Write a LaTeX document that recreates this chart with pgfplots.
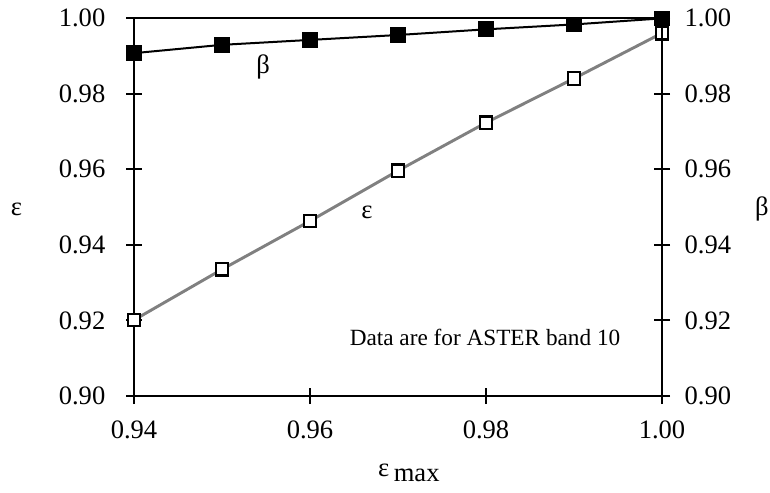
\documentclass[border=0pt]{standalone}
\usepackage{fontspec}
\setmainfont{Liberation Serif}
\usepackage{pgfplots}
\pgfplotsset{compat=1.18}
\usetikzlibrary{calc}
\definecolor{lgray}{RGB}{128,128,128}
\begin{document}
\begin{tikzpicture}
\pgfplotsset{common/.style={
  scale only axis, width=396bp, height=283.5bp,
  xmin=0.94, xmax=1.00, ymin=0.90, ymax=1.00,
  xtick={0.94,0.96,0.98,1.00},
  ytick={0.90,0.92,0.94,0.96,0.98,1.00},
  /pgf/number format/assume math mode=true,
  /pgf/number format/fixed, /pgf/number format/fixed zerofill, /pgf/number format/precision=2,
  tick style={black, line width=1.5bp}, major tick length=12bp, tick align=center,
  axis line style={line width=2bp},
  every tick label/.append style={font=\fontsize{20}{24}\selectfont},
  clip=false,
}}
\begin{axis}[common, name=ax,
  xtick pos=bottom, ytick pos=left,
  xticklabel style={yshift=-9bp}, yticklabel style={xshift=-12bp}]
\addplot[draw=lgray, line width=2.2bp, mark=square*,
  mark options={fill=white, draw=black, line width=1.8bp}, mark size=4.7bp]
  coordinates {(0.94,0.9201) (0.95,0.9335) (0.96,0.9463) (0.97,0.9596) (0.98,0.9723) (0.99,0.9840) (1.00,0.9960)};
\addplot[draw=black, line width=1.5bp, mark=square*, mark options={fill=black, draw=black, line width=0.6bp}, mark size=5.6bp]
  coordinates {(0.94,0.9907) (0.95,0.9929) (0.96,0.9942) (0.97,0.9955) (0.98,0.9970) (0.99,0.9983) (1.00,0.9999)};
\node[font=\fontsize{20}{24}\selectfont] at (axis cs:0.95466,0.98704) {β};
\node[font=\fontsize{20}{24}\selectfont] at (axis cs:0.96648,0.94868) {ε};
\node[font=\fontsize{17.5}{21}\selectfont] at (axis cs:0.97989,0.9155) {Data are for ASTER band 10};
\node[font=\fontsize{20}{24}\selectfont] at (axis description cs:-0.2225,0.4947) {ε};
\node[font=\fontsize{20}{24}\selectfont] at (axis description cs:1.189,0.4947) {β};
\node[font=\fontsize{20}{24}\selectfont, anchor=base west, inner sep=0pt] at (axis description cs:0.462,-0.212) {ε\,\raisebox{-0.2em}{max}};
\end{axis}
\begin{axis}[common, axis x line=none, axis y line*=right, ytick pos=right, yticklabel pos=right,
  yticklabel style={xshift=7.5bp}]
\end{axis}
\pgfresetboundingbox
\useasboundingbox ($(ax.south west)+(-100.5bp,-72bp)$) rectangle ($(ax.north east)+(81bp,13.5bp)$);
\end{tikzpicture}
\end{document}
